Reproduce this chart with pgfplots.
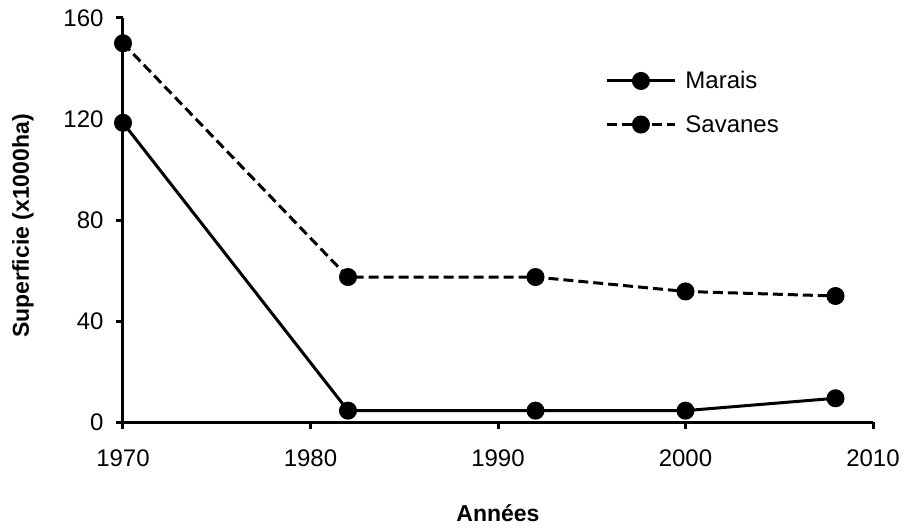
\documentclass[border=0pt]{standalone}
\usepackage{fontspec}
\setmainfont{Liberation Sans}
\usepackage{pgfplots}
\pgfplotsset{compat=1.18}
\begin{document}
\begin{tikzpicture}
\path[use as bounding box] (-123pt,-106pt) rectangle (783pt,422pt);
\begin{axis}[
  at={(0pt,0pt)}, anchor=south west,
  scale only axis, width=750pt, height=404pt,
  xmin=1970, xmax=2010, ymin=0, ymax=160,
  xtick={1970,1980,1990,2000,2010},
  ytick={0,40,80,120,160},
  axis lines=left,
  axis line style={-, line width=3pt},
  tick style={line width=3pt, black},
  tick align=outside,
  major tick length=7pt,
  /pgf/number format/assume math mode=true,
  /pgf/number format/1000 sep={},
  tick label style={font=\fontsize{24}{28}\selectfont},
  xticklabel style={yshift=-17pt},
  yticklabel style={xshift=-9pt},
  label style={font=\bfseries\fontsize{23}{28}\selectfont},
  xlabel={Années},
  ylabel={Superficie (x1000ha)},
  xlabel style={at={(axis description cs:0.5,0)}, anchor=center, yshift=-91pt},
  ylabel style={at={(axis description cs:0,0.5)}, anchor=center, yshift=100pt, xshift=-6pt},
  clip=false,
  legend style={at={(0.643,0.873)}, anchor=north west, draw=none, fill=none,
    font=\fontsize{24}{28}\selectfont, row sep=21pt, column sep=7pt, inner sep=0pt},
  legend cell align=left,
  legend image code/.code={%
    \draw[mark repeat=2,mark phase=2,#1] plot coordinates {(0pt,0pt)(34pt,0pt)(68pt,0pt)};},
]
\addplot[black, line width=3pt, mark=*, mark size=7.5pt, mark options={solid}]
  coordinates {(1970,118.5) (1982,4.5) (1992,4.5) (2000,4.5) (2008,9.4)};
\addlegendentry{Marais}
\addplot[black, line width=3pt, dash pattern=on 10pt off 5pt, mark=*, mark size=7.5pt, mark options={solid}]
  coordinates {(1970,150) (1982,57.4) (1992,57.4) (2000,51.7) (2008,49.9)};
\addlegendentry{Savanes}
\end{axis}
\end{tikzpicture}
\end{document}
